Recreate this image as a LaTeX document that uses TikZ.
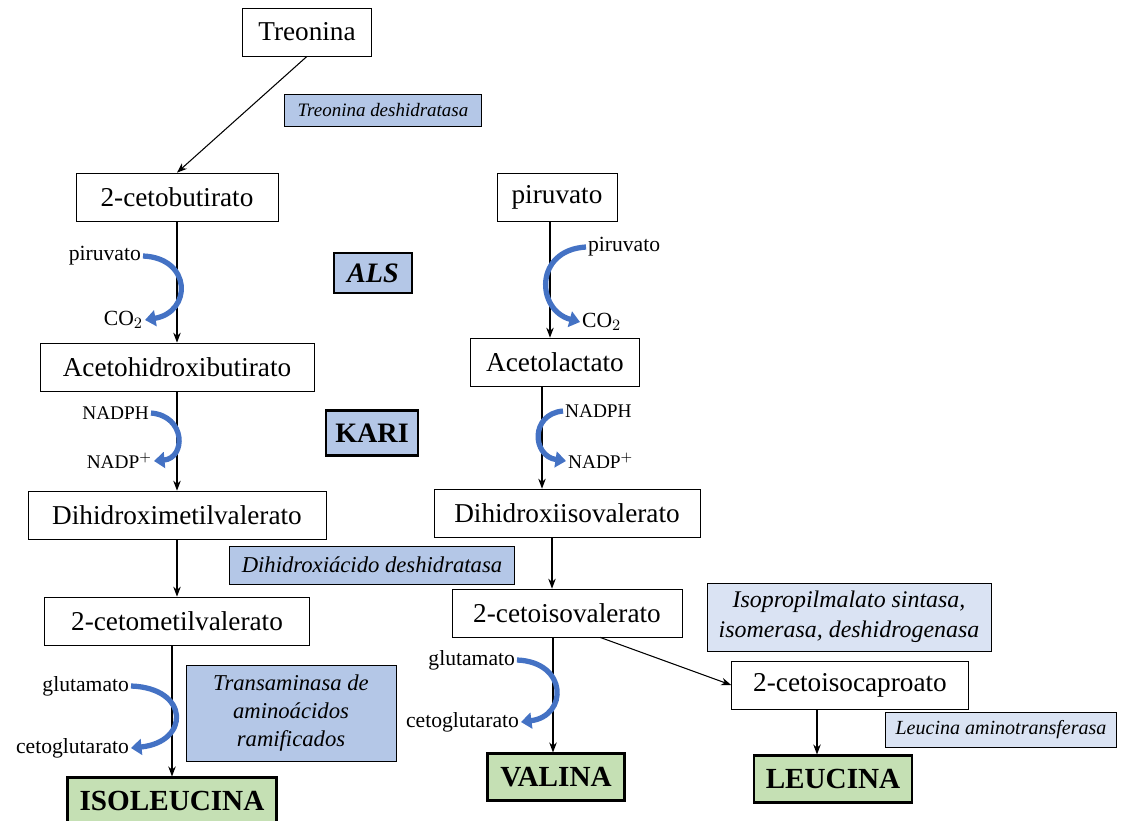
\documentclass[tikz,border=0pt]{standalone}
\usepackage{fontspec}
\setmainfont{Liberation Serif}
\usetikzlibrary{positioning,arrows.meta}
\definecolor{enzblue}{HTML}{B4C7E7}
\definecolor{enzlight}{HTML}{DAE3F3}
\definecolor{prodgreen}{HTML}{C5E0B4}
\definecolor{cofblue}{HTML}{4472C4}

\begin{document}
\begin{tikzpicture}[
  x=0.02cm, y=-0.02cm,
  >=Stealth,
  met/.style={draw,fill=white,inner sep=2pt,minimum height=0.96cm,font=\fontsize{15.5}{18}\selectfont},
  enz/.style={draw,fill=enzblue,inner sep=3pt,align=center,font=\fontsize{10.8}{13}\selectfont\itshape},
  enzl/.style={enz,fill=enzlight},
  key/.style={draw,fill=enzblue,line width=1.4pt,minimum height=0.8cm,font=\fontsize{16}{18}\selectfont\bfseries},
  prod/.style={draw,fill=prodgreen,line width=1.2pt,minimum height=0.94cm,font=\fontsize{16.6}{18}\selectfont\bfseries},
  cof/.style={inner sep=1pt,font=\fontsize{12.3}{14}\selectfont},
  nad/.style={cof,font=\fontsize{11}{13}\selectfont},
  arrow/.style={->,semithick},
  swing/.style={-{Triangle[width=9pt,length=6pt]},cofblue,line width=3pt}
]
\useasboundingbox (0,0) rectangle (1122,821);

% metabolitos
\node[met,minimum width=2.58cm] (treo) at (307,32) {Treonina};
\node[met,minimum width=4.04cm] (cbut) at (177,197) {2-cetobutirato};
\node[met,minimum width=2.40cm] (piru) at (557,197) {piruvato};
\node[met,minimum width=5.48cm] (ahb) at (177,367) {Acetohidroxibutirato};
\node[met,minimum width=3.38cm] (alac) at (555,362) {Acetolactato};
\node[met,minimum width=5.96cm] (dhmv) at (177,515) {Dihidroximetilvalerato};
\node[met,minimum width=5.32cm] (dhiv) at (567,513) {Dihidroxiisovalerato};
\node[met,minimum width=5.30cm] (kmv) at (177,621) {2-cetometilvalerato};
\node[met,minimum width=4.60cm] (kiv) at (567,613) {2-cetoisovalerato};
\node[met,minimum width=4.74cm] (kic) at (850,685) {2-cetoisocaproato};

% productos
\node[prod,minimum width=4.18cm] (ile) at (172,801) {ISOLEUCINA};
\node[prod,minimum width=2.74cm] (val) at (556,777) {VALINA};
\node[prod,minimum width=3.16cm] (leu) at (833,779) {LEUCINA};

% enzimas
\node[enz,minimum width=3.94cm,minimum height=0.64cm] (tda) at (383,110) {Treonina deshidratasa};
\node[key,minimum width=1.56cm,font=\fontsize{16}{18}\selectfont\bfseries\itshape] (als) at (373,273) {ALS};
\node[key,minimum width=1.84cm,minimum height=0.9cm] (kari) at (372,433) {KARI};
\node[enz,minimum width=5.70cm,minimum height=0.76cm,font=\fontsize{12.9}{15}\selectfont\itshape] (dad) at (372,565) {Dihidroxiácido deshidratasa};
\node[enz,minimum width=4.20cm,minimum height=1.92cm,font=\fontsize{12.9}{16}\selectfont\itshape] (bcat) at (291,713) {Transaminasa de\\aminoácidos\\ramificados};
\node[enzl,minimum width=5.68cm,minimum height=1.36cm,font=\fontsize{13.6}{17}\selectfont\itshape] (ipm) at (849,617) {Isopropilmalato sintasa,\\isomerasa, deshidrogenasa};
\node[enzl,minimum width=4.62cm,minimum height=0.70cm,font=\fontsize{11.4}{13}\selectfont\itshape] (lat) at (1001,730) {Leucina aminotransferasa};

% cofactores
\node[cof,anchor=east] (pir1) at (143,256) {piruvato};
\node[cof,anchor=east] (co1) at (145,320) {CO$_2$};
\node[cof,anchor=west] (pir2) at (586,247) {piruvato};
\node[cof,anchor=west] (co2) at (580,322) {CO$_2$};
\node[nad,anchor=east] (nadph1) at (151,413) {NADPH};
\node[nad,anchor=east] (nadp1) at (154,461) {NADP$^{+}$};
\node[nad,anchor=west] (nadph2) at (563,411) {NADPH};
\node[nad,anchor=west] (nadp2) at (566,461) {NADP$^{+}$};
\node[cof,anchor=east] (glu1) at (131,686) {glutamato};
\node[cof,anchor=east] (akg1) at (131,748) {cetoglutarato};
\node[cof,anchor=east] (glu2) at (517,660) {glutamato};
\node[cof,anchor=east] (akg2) at (521,722) {cetoglutarato};

% reacciones
\draw[arrow] (treo.south) -- (cbut.north);
\draw[arrow] (cbut.south) -- (ahb.north);
\draw[arrow] (ahb.south) -- (dhmv.north);
\draw[arrow] (dhmv.south) -- (kmv.north);
\draw[arrow] (kmv.south -| ile.north) -- (ile.north);
\draw[arrow] (piru.south -| 550,0) -- (alac.north -| 550,0);
\draw[arrow] (alac.south -| 542,0) -- (dhiv.north -| 542,0);
\draw[arrow] (dhiv.south -| 552,0) -- (kiv.north -| 552,0);
\draw[arrow] (kiv.south -| 553,0) -- (val.north -| 553,0);
\draw[arrow] (kiv.south -| 600,0) -- (kic.west);
\draw[arrow] (kic.south -| 817,0) -- (leu.north -| 817,0);

\draw[swing] (pir1.east) .. controls (192,258) and (192,312) .. (co1.east);
\draw[swing] (nadph1.east) .. controls (186,416) and (186,458) .. (nadp1.east);
\draw[swing] (glu1.east) .. controls (190,688) and (190,742) .. (akg1.east);
\draw[swing] (pir2.west) .. controls (534,250) and (536,310) .. (co2.west);
\draw[swing] (nadph2.west) .. controls (530,414) and (532,456) .. (nadp2.west);
\draw[swing] (glu2.east) .. controls (568,662) and (568,716) .. (akg2.east);
\end{tikzpicture}
\end{document}
